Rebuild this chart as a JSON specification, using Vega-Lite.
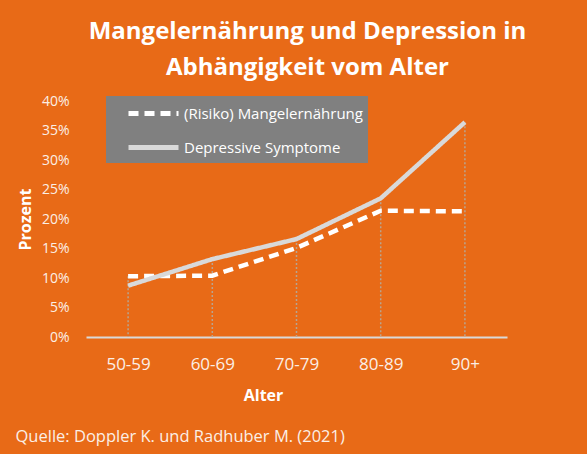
{
  "$schema": "https://vega.github.io/schema/vega-lite/v6.json",
  "width": 421,
  "height": 236,
  "autosize": {"type": "none"},
  "padding": {"left": 86, "top": 101, "right": 80, "bottom": 117},
  "background": "#E86A17",
  "title": {
    "text": ["Mangelernährung und Depression in", "Abhängigkeit vom Alter"],
    "anchor": "middle",
    "frame": "group",
    "dx": 11,
    "offset": 14,
    "font": "Open Sans",
    "fontSize": 24,
    "fontWeight": "bold",
    "color": "white",
    "lineHeight": 36
  },
  "data": {
    "values": [
      {"age": "50-59", "series": "(Risiko) Mangelernährung", "value": 0.103},
      {"age": "60-69", "series": "(Risiko) Mangelernährung", "value": 0.104},
      {"age": "70-79", "series": "(Risiko) Mangelernährung", "value": 0.151},
      {"age": "80-89", "series": "(Risiko) Mangelernährung", "value": 0.214},
      {"age": "90+", "series": "(Risiko) Mangelernährung", "value": 0.213},
      {"age": "50-59", "series": "Depressive Symptome", "value": 0.087},
      {"age": "60-69", "series": "Depressive Symptome", "value": 0.132},
      {"age": "70-79", "series": "Depressive Symptome", "value": 0.166},
      {"age": "80-89", "series": "Depressive Symptome", "value": 0.235},
      {"age": "90+", "series": "Depressive Symptome", "value": 0.364}
    ]
  },
  "encoding": {
    "x": {
      "field": "age",
      "type": "ordinal",
      "scale": {"type": "point", "padding": 0.5},
      "axis": {
        "title": "Alter",
        "titleX": 177,
        "titleY": 50,
        "titleFont": "Open Sans",
        "titleFontSize": 16,
        "titleFontWeight": "bold",
        "titleColor": "white",
        "labelAngle": 0,
        "labelFont": "Open Sans",
        "labelFontSize": 17,
        "labelColor": "#FBEFE6",
        "labelPadding": 19,
        "ticks": false,
        "grid": false,
        "domainColor": "#D9D9D9",
        "domainWidth": 2
      }
    }
  },
  "layer": [
    {
      "mark": {"type": "rule", "stroke": "#B9A48F", "strokeWidth": 1.5, "strokeDash": [2, 2]},
      "encoding": {
        "y": {"field": "value", "aggregate": "max", "type": "quantitative", "axis": null},
        "y2": {"datum": 0}
      }
    },
    {
      "mark": {"type": "line", "strokeWidth": 4.5},
      "encoding": {
        "y": {
          "field": "value",
          "type": "quantitative",
          "scale": {"domain": [0, 0.4]},
          "axis": {
            "orient": "left",
            "title": "Prozent",
            "titleFont": "Open Sans",
            "titleFontSize": 16,
            "titleFontWeight": "bold",
            "titleColor": "white",
            "titlePadding": 8,
            "values": [0, 0.05, 0.1, 0.15, 0.2, 0.25, 0.3, 0.35, 0.4],
            "format": ".0%",
            "labelFont": "Open Sans",
            "labelFontSize": 14,
            "labelColor": "#FBEFE6",
            "labelPadding": 17,
            "ticks": false,
            "domain": false,
            "gridColor": "white",
            "gridDash": [2, 3],
            "gridWidth": 1.5
          }
        },
        "color": {
          "field": "series",
          "type": "nominal",
          "scale": {
            "domain": ["(Risiko) Mangelernährung", "Depressive Symptome"],
            "range": ["#FFFFFF", "#D9D9D9"]
          },
          "legend": {
            "title": null,
            "orient": "none",
            "legendX": 20,
            "legendY": -5,
            "fillColor": "#808080",
            "padding": 5,
            "rowPadding": 11,
            "symbolType": "M-2.5,0H2.5",
            "symbolSize": 400,
            "symbolStrokeWidth": 5,
            "symbolOffset": 30,
            "labelFont": "Open Sans",
            "labelFontSize": 15,
            "labelColor": "white",
            "labelOffset": 18,
            "labelLimit": 300
          }
        },
        "strokeDash": {
          "field": "series",
          "type": "nominal",
          "scale": {
            "domain": ["(Risiko) Mangelernährung", "Depressive Symptome"],
            "range": [[10, 6], [1, 0]]
          },
          "legend": null
        }
      }
    },
    {
      "mark": {"type": "rule", "opacity": 0},
      "encoding": {
        "y": {
          "field": "value",
          "aggregate": "max",
          "type": "quantitative",
          "axis": {
            "orient": "right",
            "labels": false,
            "ticks": false,
            "domain": false,
            "grid": false,
            "title": "Quelle: Doppler K. und Radhuber M. (2021)",
            "titleAngle": 0,
            "titleAlign": "left",
            "titleBaseline": "middle",
            "titleX": -492,
            "titleY": 335,
            "titleFont": "Open Sans",
            "titleFontSize": 16.5,
            "titleFontWeight": "normal",
            "titleColor": "#FBEFE6"
          }
        }
      }
    }
  ],
  "resolve": {"axis": {"y": "independent"}},
  "config": {"view": {"stroke": null}}
}
